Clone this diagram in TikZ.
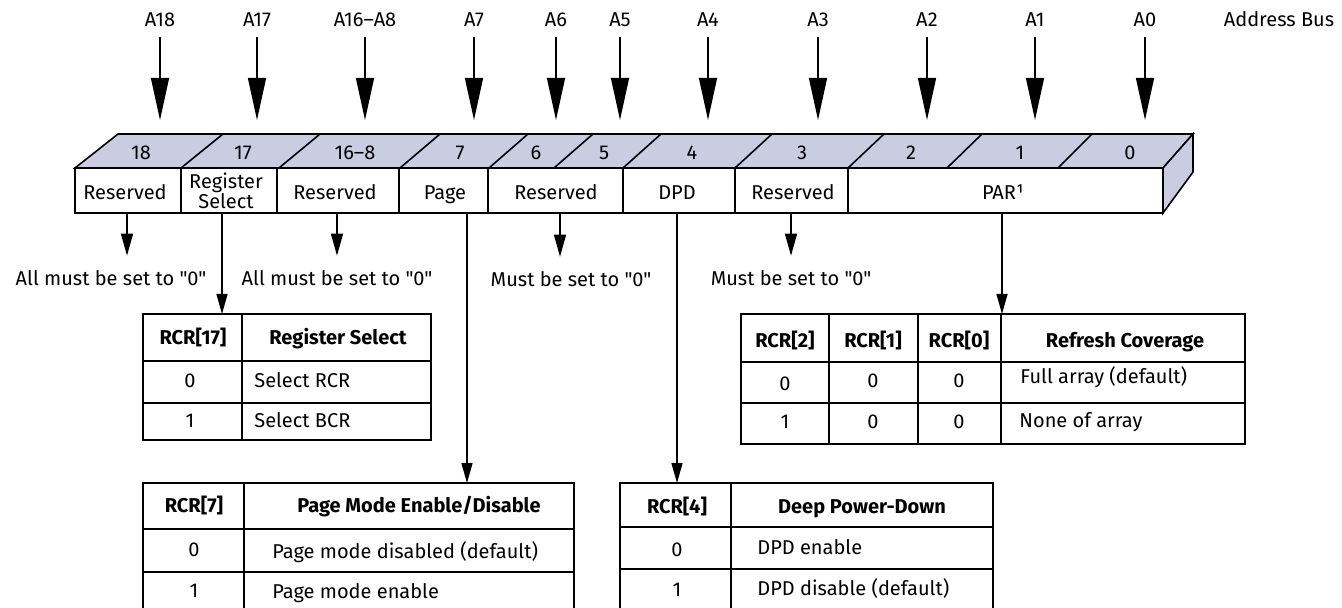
\documentclass[tikz,border=0pt]{standalone}
\usepackage{fontspec}
\setmainfont{Fira Sans}[Ligatures=TeXOff]
\usetikzlibrary{arrows.meta}
\definecolor{regface}{RGB}{202,205,226}

\tikzset{
  bigarr/.style={-{Triangle[length=21pt,width=9pt]},line width=0.7pt},
  smallarr/.style={-{Triangle[length=11pt,width=6pt]},line width=0.7pt},
  tabarr/.style={-{Triangle[length=10pt,width=5.5pt]},line width=0.7pt},
  lbl/.style={font=\fontsize{10}{10}\selectfont,inner sep=0pt,text height=6.9pt,text depth=0pt},
  hdr/.style={lbl,font=\fontsize{10}{10}\selectfont\bfseries},
  grid/.style={line width=0.8pt},
}

\begin{document}
\begin{tikzpicture}[x=0.5pt,y=-0.5pt]
\useasboundingbox (0,0) rectangle (1342,608);

% address bus
\coordinate (top) at (0,120);
\foreach \n/\x/\t in {18/160/A18,17/257/A17,168/365/A16–A8,7/474/A7,6/556/A6,5/620/A5,
                      4/708/A4,3/818/A3,2/927/A2,1/1035/A1,0/1145/A0}{
  \node[lbl] (a\n) at (\x,20) {\t};
  \draw[bigarr,shorten <=5pt] (a\n.south) -- (a\n.south |- top);
}
\node[lbl] (bus) at (1279,20) {Address Bus};

% register body
\draw[grid,fill=regface] (75,168) -- (118,134) -- (1193,134) -- (1163,168) -- cycle;
\draw[grid,fill=regface] (1163,168) -- (1193,134) -- (1193,172) -- (1163,213) -- cycle;
\draw[grid,fill=white] (75,168) rectangle (1163,213);
\foreach \f/\b in {181/223,279/320,400/440,489/528,554/593,623/661,735/772,848/884,947/982,1058/1092}
  \draw[grid] (\f,168) -- (\b,134);
\foreach \f in {181,277,399,488,623,735,848}
  \draw[grid] (\f,168) -- (\f,213);

% bit numbers
\foreach \t/\x in {18/141,17/243,16–8/355,7/460,6/536,5/604,4/692,3/802,2/911,1/1020,0/1130}
  \node[lbl] at (\x,153) {\t};

% fields
\node[lbl] (f18) at (125,193) {Reserved};
\node[font=\fontsize{10}{10}\selectfont,inner sep=0pt,align=center] (f17) at (226,191) {Register\\Select};
\node[lbl] (f168) at (335,193) {Reserved};
\node[lbl] (f7) at (445,193) {Page};
\node[lbl] (f65) at (556,193) {Reserved};
\node[lbl] (f4) at (677,193) {DPD};
\node[lbl] (f3) at (793,193) {Reserved};
\node[lbl] (f20) at (1003,193) {PAR¹};

\coordinate (b18) at (127,213);
\coordinate (b17) at (222,213);
\coordinate (b168) at (337,213);
\coordinate (b7) at (467,213);
\coordinate (b65) at (560,213);
\coordinate (b4) at (677,213);
\coordinate (b3) at (791,213);
\coordinate (b20) at (1002,213);

% reserved notes
\node[lbl] (m18) at (111,279) {All must be set to "0"};
\node[lbl] (m168) at (337,279) {All must be set to "0"};
\node[lbl] (m65) at (571,280) {Must be set to "0"};
\node[lbl] (m3) at (791,279) {Must be set to "0"};
\foreach \n in {18,168,65,3}
  \draw[smallarr,shorten >=8pt] (b\n) -- (b\n |- m\n.north);

% register select table
\coordinate (rs) at (143,314);
\draw[grid] (rs) rectangle (431,440);
\draw[grid] (242,314) -- (242,440) (143,361) -- (431,361) (143,403) -- (431,403);
\node[hdr] (rs1) at (193,338) {RCR[17]};
\node[hdr] (rs2) at (338,338) {Register Select};
\node[lbl] (rs3) at (190,381) {0};
\node[lbl,anchor=west] (rs4) at (254,381) {Select RCR};
\node[lbl] (rs5) at (190,421) {1};
\node[lbl,anchor=west] (rs6) at (254,421) {Select BCR};

% page mode table
\coordinate (pm) at (143,483);
\draw[grid] (pm) rectangle (574,615);
\draw[grid] (244,483) -- (244,615) (143,529) -- (574,529) (143,572) -- (574,572);
\node[hdr] (pm1) at (194,506) {RCR[7]};
\node[hdr] (pm2) at (419,506) {Page Mode Enable/Disable};
\node[lbl] (pm3) at (194,550) {0};
\node[lbl,anchor=west] (pm4) at (272,552) {Page mode disabled (default)};
\node[lbl] (pm5) at (194,591) {1};
\node[lbl,anchor=west] (pm6) at (272,592) {Page mode enable};

% refresh coverage table
\coordinate (rc) at (741,314);
\draw[grid] (rc) rectangle (1245,444);
\draw[grid] (829,314) -- (829,444) (918,314) -- (918,444) (1001,314) -- (1001,444)
            (741,362) -- (1245,362) (741,403) -- (1245,403);
\node[hdr] (rc1) at (785,341) {RCR[2]};
\node[hdr] (rc2) at (873,341) {RCR[1]};
\node[hdr] (rc3) at (959,341) {RCR[0]};
\node[hdr] (rc4) at (1125,341) {Refresh Coverage};
\node[lbl] (rc5) at (785,384) {0};
\node[lbl] (rc6) at (873,381) {0};
\node[lbl] (rc7) at (959,381) {0};
\node[lbl,anchor=west] (rc8) at (1020,377) {Full array (default)};
\node[lbl] (rc9) at (785,422) {1};
\node[lbl] (rc10) at (873,422) {0};
\node[lbl] (rc11) at (959,422) {0};
\node[lbl,anchor=west] (rc12) at (1019,421) {None of array};

% deep power-down table
\coordinate (dp) at (620,483);
\draw[grid] (dp) rectangle (993,615);
\draw[grid] (731,483) -- (731,615) (620,527) -- (993,527) (620,569) -- (993,569);
\node[hdr] (dp1) at (677,507) {RCR[4]};
\node[hdr] (dp2) at (862,507) {Deep Power-Down};
\node[lbl] (dp3) at (677,550) {0};
\node[lbl,anchor=west] (dp4) at (757,548) {DPD enable};
\node[lbl] (dp5) at (677,590) {1};
\node[lbl,anchor=west] (dp6) at (757,589) {DPD disable (default)};

% field to table
\draw[tabarr] (b17) -- (b17 |- rs);
\draw[tabarr] (b7) -- (b7 |- pm);
\draw[tabarr] (b4) -- (b4 |- dp);
\draw[tabarr] (b20) -- (b20 |- rc);

\end{tikzpicture}
\end{document}
